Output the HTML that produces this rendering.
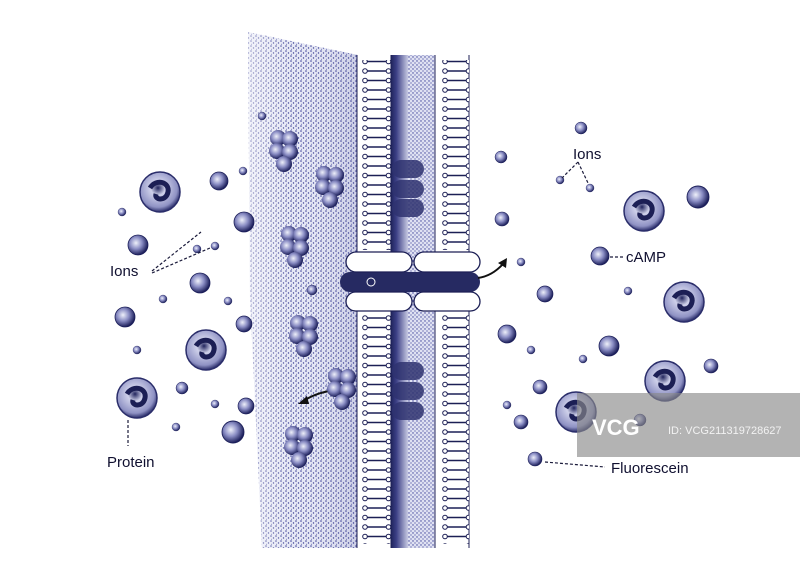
<!DOCTYPE html>
<html><head><meta charset="utf-8"><style>
html,body{margin:0;padding:0;background:#fff;width:800px;height:568px;overflow:hidden}
svg{display:block}
text{font-family:"Liberation Sans",sans-serif;fill:#101030}
</style></head><body>
<svg width="800" height="568" viewBox="0 0 800 568" xmlns="http://www.w3.org/2000/svg">
<defs>
<pattern id="st" width="5" height="5" patternUnits="userSpaceOnUse">
<rect width="5" height="5" fill="#e6e8f5"/>
<circle cx="1" cy="1" r="0.8" fill="#3a3f96"/><circle cx="3.5" cy="3" r="0.7" fill="#3a3f96"/><circle cx="1.5" cy="4.2" r="0.5" fill="#5558a8"/>
</pattern>
<pattern id="st2" width="4" height="4" patternUnits="userSpaceOnUse">
<rect width="4" height="4" fill="#dfe1f2"/>
<circle cx="1" cy="1" r="0.7" fill="#3a3f96"/><circle cx="3" cy="3" r="0.6" fill="#3a3f96"/>
</pattern>
<linearGradient id="dk" x1="0" x2="1">
<stop offset="0" stop-color="#1c1f55"/><stop offset="0.35" stop-color="#3b3f85"/><stop offset="1" stop-color="#c7c9e3"/>
</linearGradient>
<linearGradient id="edge" x1="0" x2="1">
<stop offset="0" stop-color="#fff" stop-opacity="0.5"/><stop offset="0.4" stop-color="#fff" stop-opacity="0"/><stop offset="1" stop-color="#30348a" stop-opacity="0.15"/>
</linearGradient>
<radialGradient id="sp" cx="0.4" cy="0.4" r="0.6">
<stop offset="0" stop-color="#eef0fa"/><stop offset="0.5" stop-color="#8a8dc4"/><stop offset="1" stop-color="#1c1f5a"/>
</radialGradient>
<radialGradient id="pr" cx="0.45" cy="0.4" r="0.6">
<stop offset="0" stop-color="#20235c"/><stop offset="0.3" stop-color="#cfd1ea"/><stop offset="0.8" stop-color="#8f92c4"/><stop offset="1" stop-color="#2a2d6a"/>
</radialGradient>
<pattern id="lip" width="40" height="9.5" patternUnits="userSpaceOnUse">
<circle cx="5" cy="4.5" r="2.3" fill="#fff" stroke="#1c1f55" stroke-width="1"/>
<line x1="7.3" y1="4.5" x2="26" y2="4.5" stroke="#1c1f55" stroke-width="1.4"/>
<circle cx="28.5" cy="4.5" r="2.3" fill="#fff" stroke="#1c1f55" stroke-width="1"/>
</pattern>
<g id="s"><circle r="1" fill="url(#sp)" stroke="#1c1f5a" stroke-width="0.08"/></g>
<g id="p"><circle r="20" fill="url(#pr)" stroke="#2a2d6a" stroke-width="1.5"/><path d="M-10,-4 C-4,-14 10,-10 8,0 C6,10 -6,8 -4,2" fill="none" stroke="#1c1f55" stroke-width="5"/></g>
<g id="c"><circle cx="-6" cy="-9" r="8" fill="url(#sp)"/><circle cx="6" cy="-8" r="8" fill="url(#sp)"/><circle cx="-7" cy="4" r="8" fill="url(#sp)"/><circle cx="6" cy="5" r="8" fill="url(#sp)"/><circle cx="0" cy="17" r="8" fill="url(#sp)"/></g>
</defs>
<path d="M248,32 L358,55 L358,548 L262,548 Q255,400 250,300 Z" fill="url(#st)"/>
<path d="M248,32 L358,55 L358,548 L262,548 Q255,400 250,300 Z" fill="url(#edge)"/>
<rect x="390" y="55" width="46" height="493" fill="url(#st2)"/>
<rect x="390" y="55" width="18" height="493" fill="url(#dk)"/>
<rect x="357" y="55" width="34" height="493" fill="#fff"/>
<rect x="435" y="55" width="34" height="493" fill="#fff"/>
<line x1="357" y1="55" x2="357" y2="548" stroke="#1c1f55"/>
<line x1="391" y1="55" x2="391" y2="548" stroke="#1c1f55"/>
<line x1="435" y1="55" x2="435" y2="548" stroke="#1c1f55"/>
<line x1="469" y1="55" x2="469" y2="548" stroke="#1c1f55"/>
<rect x="357" y="60" width="34" height="190" fill="url(#lip)"/>
<rect x="435" y="60" width="34" height="190" fill="url(#lip)"/>
<rect x="357" y="312" width="34" height="232" fill="url(#lip)"/>
<rect x="435" y="312" width="34" height="232" fill="url(#lip)"/>
<g fill="#2f3370" opacity="0.85">
<rect x="392" y="160" width="32" height="18" rx="9"/><rect x="392" y="180" width="32" height="18" rx="9"/><rect x="392" y="199" width="32" height="18" rx="9"/>
<rect x="392" y="362" width="32" height="18" rx="9"/><rect x="392" y="382" width="32" height="18" rx="9"/><rect x="392" y="402" width="32" height="18" rx="9"/>
</g>
<rect x="340" y="272" width="140" height="20" rx="10" fill="#262a62"/>
<g fill="#fff" stroke="#1c1f55" stroke-width="1.3">
<rect x="346" y="252" width="66" height="20" rx="10"/><rect x="414" y="252" width="66" height="20" rx="10"/>
<rect x="346" y="292" width="66" height="19" rx="9.5"/><rect x="414" y="292" width="66" height="19" rx="9.5"/>
</g>
<circle cx="371" cy="282" r="4" fill="none" stroke="#fff"/>
<path d="M478,278 Q492,276 503,264" fill="none" stroke="#111" stroke-width="2"/>
<path d="M507,258 L498,263 L506,268 Z" fill="#111"/>
<path d="M336,390 Q318,392 305,400" fill="none" stroke="#111" stroke-width="2"/>
<path d="M298,404 L307,396 L309,404 Z" fill="#111"/>
<use href="#c" x="284" y="147"/><use href="#c" x="330" y="183"/><use href="#c" x="295" y="243"/>
<use href="#c" x="304" y="332"/><use href="#c" x="342" y="385"/><use href="#c" x="299" y="443"/>
<use href="#p" x="160" y="192"/><use href="#p" x="206" y="350"/><use href="#p" x="137" y="398"/>
<use href="#p" x="644" y="211"/><use href="#p" x="684" y="302"/><use href="#p" x="665" y="381"/><use href="#p" x="576" y="412"/>
<g>
<use href="#s" transform="translate(219,181) scale(9)"/><use href="#s" transform="translate(243,171) scale(4)"/><use href="#s" transform="translate(122,212) scale(4)"/>
<use href="#s" transform="translate(244,222) scale(10)"/><use href="#s" transform="translate(138,245) scale(10)"/><use href="#s" transform="translate(215,246) scale(4)"/>
<use href="#s" transform="translate(197,249) scale(4)"/><use href="#s" transform="translate(200,283) scale(10)"/><use href="#s" transform="translate(163,299) scale(4)"/>
<use href="#s" transform="translate(228,301) scale(4)"/><use href="#s" transform="translate(125,317) scale(10)"/><use href="#s" transform="translate(244,324) scale(8)"/>
<use href="#s" transform="translate(137,350) scale(4)"/><use href="#s" transform="translate(182,388) scale(6)"/><use href="#s" transform="translate(215,404) scale(4)"/>
<use href="#s" transform="translate(246,406) scale(8)"/><use href="#s" transform="translate(176,427) scale(4)"/><use href="#s" transform="translate(233,432) scale(11)"/>
<use href="#s" transform="translate(312,290) scale(5)"/><use href="#s" transform="translate(262,116) scale(4)"/>
<use href="#s" transform="translate(581,128) scale(6)"/><use href="#s" transform="translate(501,157) scale(6)"/><use href="#s" transform="translate(560,180) scale(4)"/>
<use href="#s" transform="translate(590,188) scale(4)"/><use href="#s" transform="translate(698,197) scale(11)"/><use href="#s" transform="translate(502,219) scale(7)"/>
<use href="#s" transform="translate(600,256) scale(9)"/><use href="#s" transform="translate(521,262) scale(4)"/><use href="#s" transform="translate(545,294) scale(8)"/>
<use href="#s" transform="translate(628,291) scale(4)"/><use href="#s" transform="translate(507,334) scale(9)"/><use href="#s" transform="translate(609,346) scale(10)"/>
<use href="#s" transform="translate(531,350) scale(4)"/><use href="#s" transform="translate(583,359) scale(4)"/><use href="#s" transform="translate(711,366) scale(7)"/>
<use href="#s" transform="translate(540,387) scale(7)"/><use href="#s" transform="translate(507,405) scale(4)"/><use href="#s" transform="translate(521,422) scale(7)"/>
<use href="#s" transform="translate(535,459) scale(7)"/><use href="#s" transform="translate(640,420) scale(6)"/>
</g>
<g stroke="#1a1a3a" stroke-width="1.2" stroke-dasharray="3,2" fill="none">
<path d="M152,271 L201,232 M152,273 L210,248"/>
<path d="M128,420 L128,446"/>
<path d="M578,162 L562,178 M578,162 L588,183"/>
<path d="M610,257 L624,257"/>
<path d="M545,462 L605,467"/>
</g>
<text x="110" y="276" font-size="15">Ions</text>
<text x="107" y="467" font-size="15">Protein</text>
<text x="573" y="159" font-size="15">Ions</text>
<text x="626" y="262" font-size="15">cAMP</text>
<text x="611" y="473" font-size="15">Fluorescein</text>
<rect x="577" y="393" width="223" height="64" fill="#8a8a8a" opacity="0.65"/>
<text x="592" y="435" font-size="22" font-weight="bold" style="fill:#fff">VCG</text>
<text x="668" y="434" font-size="11" style="fill:#f2f2f2">ID: VCG211319728627</text>
</svg>
</body></html>
